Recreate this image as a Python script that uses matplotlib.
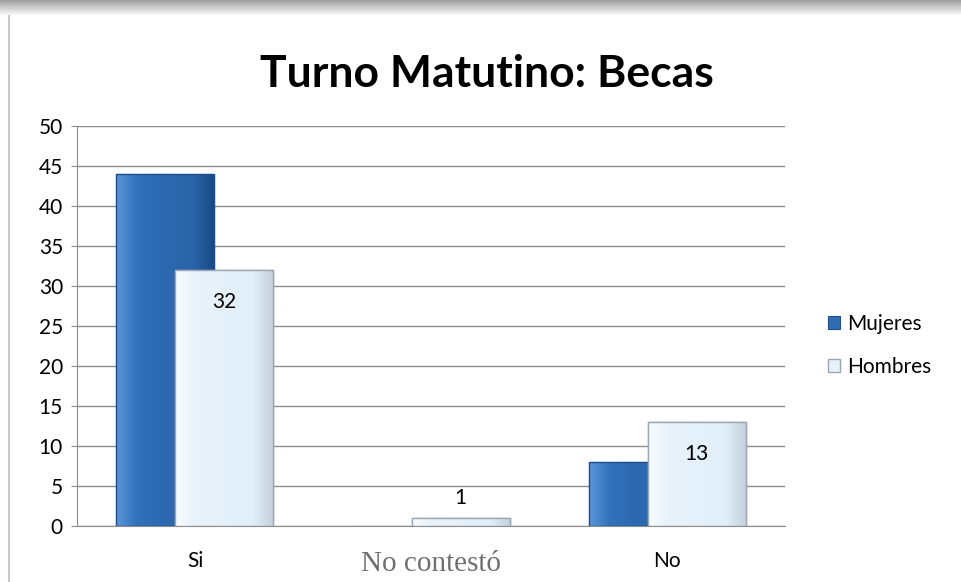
import numpy as np
import matplotlib
matplotlib.use("Agg")
import matplotlib.pyplot as plt
from matplotlib.patches import Rectangle
from matplotlib.colors import LinearSegmentedColormap

categories = ["Si", "No contestó", "No"]
mujeres = [44, 0, 8]
hombres = [32, 1, 13]
series_names = ["Mujeres", "Hombres"]

plt.rcParams['font.family'] = ['Lato', 'DejaVu Sans']

fig = plt.figure(figsize=(9.61, 5.82), dpi=100)
ax = fig.add_axes([0.080, 0.0962, 0.737, 0.6873])

x = np.arange(len(categories))
w = 0.415
off = 0.125

blue_cm = LinearSegmentedColormap.from_list(
    "b", ["#5a95d8", "#3272bb", "#2e6bb2", "#2c68ad", "#2a64a8", "#1a4a86"])
light_cm = LinearSegmentedColormap.from_list(
    "l", ["#f8fbfe", "#e8f2fa", "#e6f1fa", "#e4f0f9", "#e2eef8", "#c5d2de"])
grad = np.linspace(0, 1, 64).reshape(1, -1)

b1 = ax.bar(x - off, mujeres, w, color="#2f6db5", edgecolor="#1d4f8e", linewidth=0.8,
            label=series_names[0], zorder=3)
b2 = ax.bar(x + off, hombres, w, color="#e6f1fa", edgecolor="#9aa7b3", linewidth=1.0,
            label=series_names[1], zorder=4)

# fake the bevel look with a gradient clipped to each bar
for bars, cm, z in [(b1, blue_cm, 3.5), (b2, light_cm, 4.5)]:
    for p in bars:
        if p.get_height() <= 0:
            continue
        x0, y0 = p.get_x(), p.get_y()
        im = ax.imshow(grad, cmap=cm, aspect="auto", zorder=z,
                       extent=[x0, x0 + p.get_width(), y0, y0 + p.get_height()])
        im.set_clip_path(p)
        edge = Rectangle((x0, y0), p.get_width(), p.get_height(), fill=False,
                         edgecolor=p.get_edgecolor(), linewidth=1.0, zorder=z + 0.1)
        ax.add_patch(edge)

# value labels (Hombres only)
for xi, v in zip(x + off, hombres):
    if v > 5:
        ax.text(xi, v - 4, str(v), ha="center", va="center", fontsize=15, zorder=6)
    else:
        ax.text(xi, v + 2.5, str(v), ha="center", va="center", fontsize=15, zorder=6)

ax.set_xlim(-0.5, 2.5)
ax.set_ylim(0, 50)
ax.set_yticks(np.arange(0, 51, 5))
ax.yaxis.grid(True, color="#8c8c8c", linewidth=1.0, zorder=0)
ax.set_axisbelow(True)
ax.tick_params(axis="y", labelsize=15, length=4, color="#8c8c8c", pad=6)
ax.tick_params(axis="x", length=0, pad=18)
ax.set_xticks(x)
ax.set_xticklabels(categories, fontsize=15)
lbl = ax.get_xticklabels()[1]
lbl.set_family("Liberation Serif")
lbl.set_fontsize(21)
lbl.set_color("#707070")
for s in ["top", "right"]:
    ax.spines[s].set_visible(False)
ax.spines["left"].set_color("#8c8c8c")
ax.spines["bottom"].set_color("#8c8c8c")

fig.text(0.507, 0.872, "Turno Matutino: Becas", ha="center", va="center",
         fontsize=32, fontweight="bold")

leg = fig.legend(handles=[b1, b2], labels=series_names, loc="center left",
                 bbox_to_anchor=(0.842, 0.407), frameon=False, fontsize=15,
                 handlelength=0.6, handleheight=0.6, handletextpad=0.3, labelspacing=1.1)

# frame decoration: grey band on top and thin line on the left
top_cm = LinearSegmentedColormap.from_list("t", ["#ffffff", "#9a9a9a"])
bg = fig.add_axes([0, 0.972, 1, 0.028])
bg.imshow(np.linspace(0, 1, 32).reshape(-1, 1)[::-1], cmap=top_cm, aspect="auto")
bg.axis("off")
fig.add_artist(plt.Line2D([0.009, 0.009], [0, 0.972], color="#c8c8c8", linewidth=1.5))

fig.savefig("out.png", dpi=100)
